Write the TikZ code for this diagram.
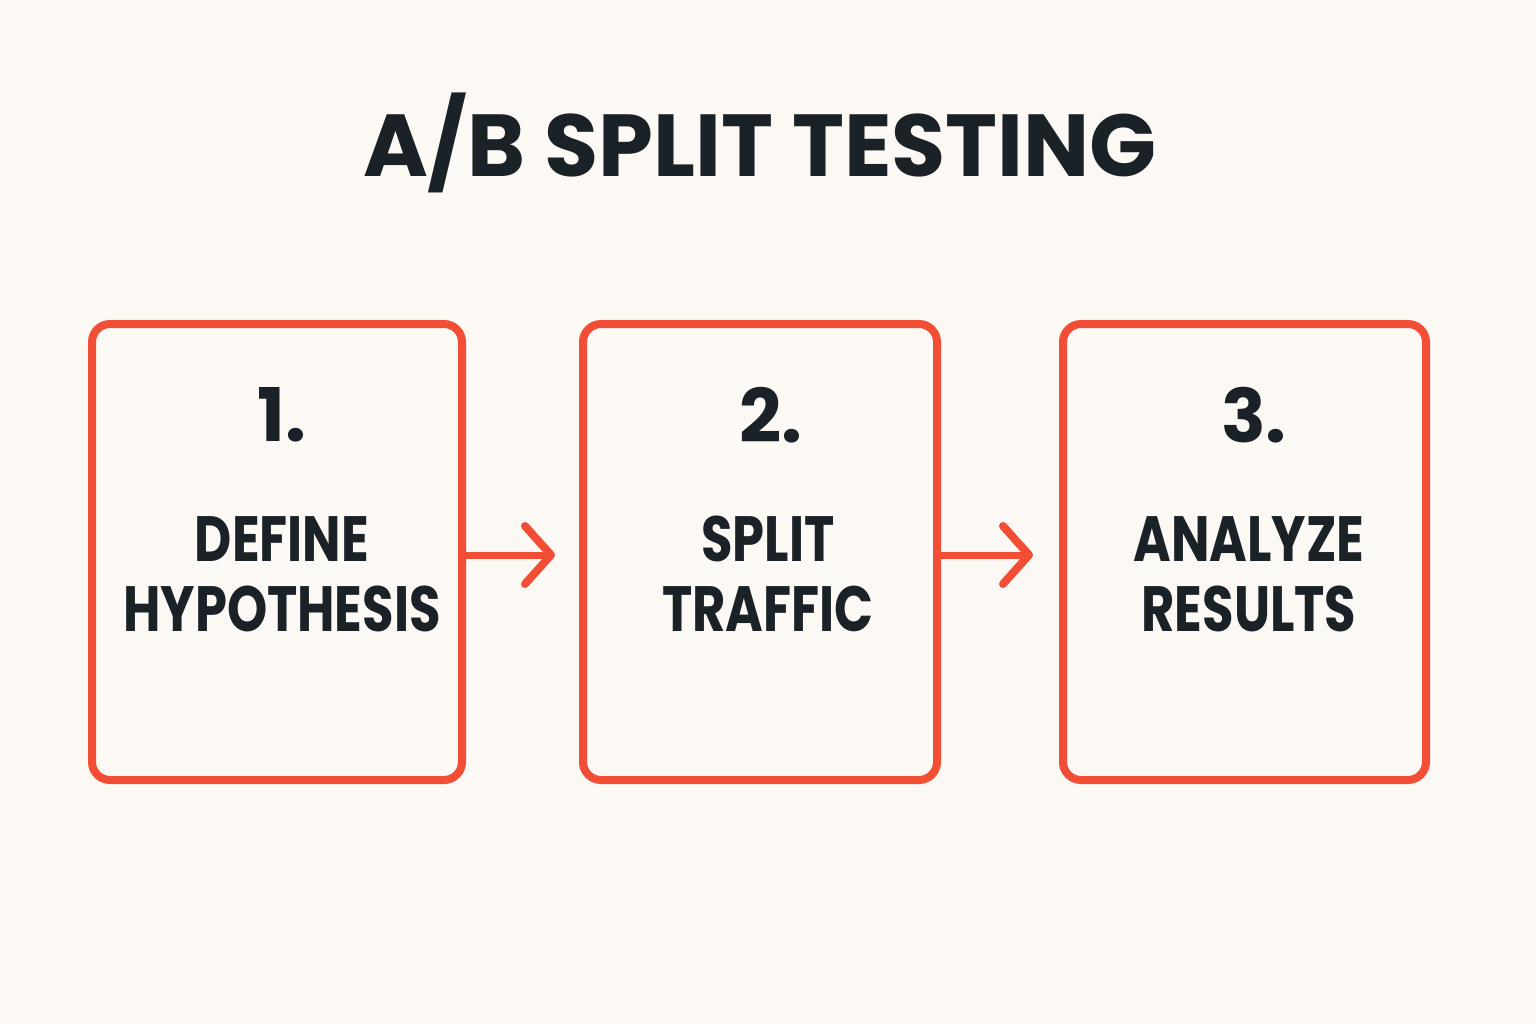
\documentclass[tikz,border=0pt]{standalone}
\usepackage{fontspec}
\setmainfont{Poppins}
\usetikzlibrary{arrows.meta}
\definecolor{bg}{HTML}{FCF9F4}
\definecolor{accent}{HTML}{F24E36}
\definecolor{ink}{HTML}{1A2228}
\tikzset{
  stepbox/.style={draw=accent,line width=8pt,rounded corners=18pt},
  num/.style={text=ink,font=\fontsize{74}{74}\selectfont\bfseries},
  lbl/.style={text=ink,font=\fontsize{64}{72}\selectfont\bfseries,align=center},
  conn/.style={draw=accent,line width=7pt,line cap=round,-{Straight Barb[length=26pt,width=58pt,line width=8pt,round]}}
}
\newcommand{\sq}[1]{\scalebox{0.8}[1]{#1}}
\begin{document}
\begin{tikzpicture}[x=1pt,y=-1pt]
\fill[bg] (0,0) rectangle (1536,1024);
\useasboundingbox (0,0) rectangle (1536,1024);
\node[text=ink,font=\fontsize{88}{88}\selectfont\bfseries] (title) at (760,143) {A/B SPLIT TESTING};
\draw[stepbox] (92,324) rectangle (462,780);
\draw[stepbox] (583,324) rectangle (937,780);
\draw[stepbox] (1063,324) rectangle (1426,780);
\coordinate (b1) at (462,555);
\coordinate (b2) at (583,555);
\coordinate (b2r) at (937,555);
\coordinate (b3) at (1063,555);
\node[num] (n1) at (282,415) {1.};
\node[num] (n2) at (771,415) {2.};
\node[num] (n3) at (1254,415) {3.};
\node[lbl] (l1) at (282,574) {\sq{DEFINE}\\[-2pt]\sq{HYPOTHESIS}};
\node[lbl] (l2) at (768,574) {\sq{SPLIT}\\[-2pt]\sq{TRAFFIC}};
\node[lbl] (l3) at (1249,574) {\sq{ANALYZE}\\[-2pt]\sq{RESULTS}};
\draw[conn] (b1) -- ([xshift=-28pt]b2);
\draw[conn] (b2r) -- ([xshift=-30pt]b3);
\end{tikzpicture}
\end{document}
